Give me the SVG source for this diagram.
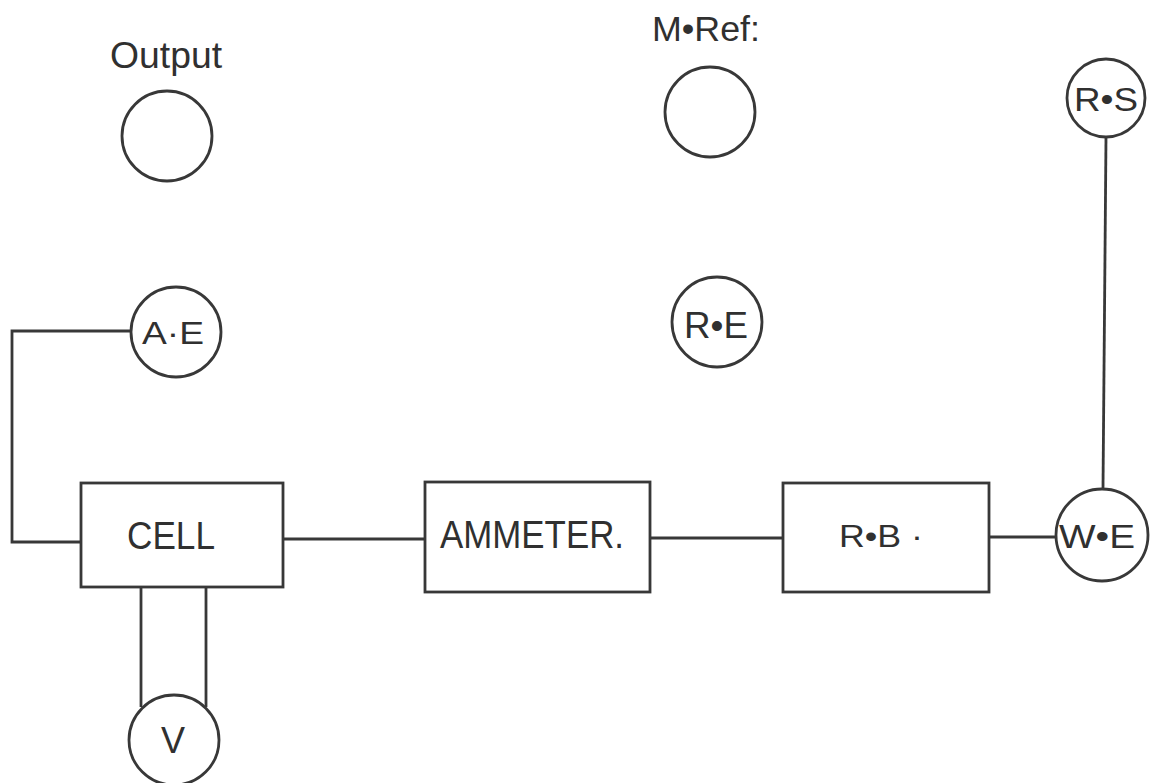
<svg xmlns="http://www.w3.org/2000/svg" width="1158" height="783" viewBox="0 0 1158 783">
<style>
.s{fill:none;stroke:#383838;stroke-width:2.8}
.b{fill:#fff;stroke:#383838;stroke-width:2.8}
.t{font-family:"Liberation Sans","DejaVu Sans",sans-serif;fill:#303030;text-anchor:middle}
</style>
<rect width="1158" height="783" fill="#fff"/>
<g id="connectors">
<polyline class="s" points="131,331 12,331 12,542 81,542"/>
<line class="s" x1="283" y1="539" x2="425" y2="539"/>
<line class="s" x1="650" y1="538" x2="783" y2="538"/>
<line class="s" x1="989" y1="537" x2="1056" y2="537"/>
<line class="s" x1="1106" y1="137" x2="1103" y2="489"/>
<line class="s" x1="141" y1="587" x2="141" y2="707"/>
<line class="s" x1="206" y1="587" x2="206" y2="707"/>
</g>
<g id="output">
<text class="t" x="166" y="68" font-size="36" textLength="112" lengthAdjust="spacingAndGlyphs">Output</text>
<circle class="b" cx="167" cy="136" r="45"/>
</g>
<g id="mref">
<text class="t" x="706" y="41" font-size="35" textLength="108" lengthAdjust="spacingAndGlyphs">M•Ref:</text>
<circle class="b" cx="710" cy="112" r="45"/>
</g>
<g id="rs">
<circle class="b" cx="1106" cy="98" r="39"/>
<text class="t" x="1106" y="111" font-size="34" textLength="64" lengthAdjust="spacingAndGlyphs">R•S</text>
</g>
<g id="ae">
<circle class="b" cx="176" cy="332" r="45"/>
<text class="t" x="173" y="344" font-size="32" textLength="62" lengthAdjust="spacingAndGlyphs">A·E</text>
</g>
<g id="re">
<circle class="b" cx="717" cy="322" r="45"/>
<text class="t" x="716" y="338" font-size="36" textLength="64" lengthAdjust="spacingAndGlyphs">R•E</text>
</g>
<g id="cell">
<rect class="b" x="81" y="483" width="202" height="104"/>
<text class="t" x="171" y="549" font-size="38" textLength="88" lengthAdjust="spacingAndGlyphs">CELL</text>
</g>
<g id="ammeter">
<rect class="b" x="425" y="482" width="225" height="110"/>
<text class="t" x="532" y="548" font-size="39" textLength="184" lengthAdjust="spacingAndGlyphs">AMMETER.</text>
</g>
<g id="rb">
<rect class="b" x="783" y="483" width="206" height="109"/>
<text class="t" x="881" y="547" font-size="32" textLength="84" lengthAdjust="spacingAndGlyphs">R•B ·</text>
</g>
<g id="we">
<circle class="b" cx="1102" cy="535" r="46"/>
<text class="t" x="1097" y="548" font-size="34" textLength="76" lengthAdjust="spacingAndGlyphs">W•E</text>
</g>
<g id="v">
<circle class="b" cx="174" cy="740" r="45"/>
<text class="t" x="173" y="753" font-size="36">V</text>
</g>
</svg>
